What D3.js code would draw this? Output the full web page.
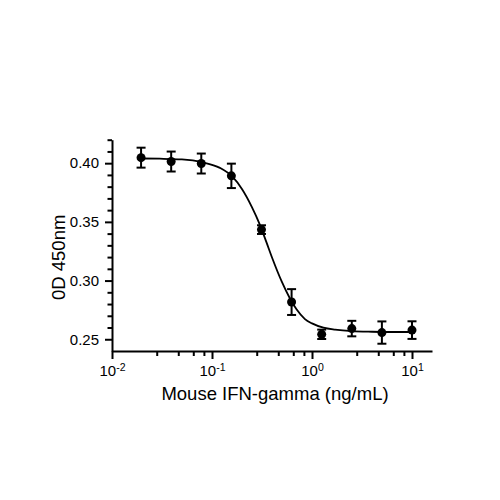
<!DOCTYPE html>
<html>
<head>
<meta charset="utf-8">
<script src="https://cdn.jsdelivr.net/npm/d3@7"></script>
<style>
  body { margin: 0; background: #fff; }
  text { font-family: "Liberation Sans", Arial, sans-serif; fill: #000; }
</style>
</head>
<body>
<div id="chart"></div>
<script>
// data
var conc = [0.01953, 0.03906, 0.07813, 0.15625, 0.3125, 0.625, 1.25, 2.5, 5, 10];
var od = [0.4047, 0.4014, 0.3997, 0.3892, 0.3434, 0.2817, 0.2542, 0.2591, 0.2557, 0.2578];
var sd = [0.0085, 0.0085, 0.0085, 0.0104, 0.0037, 0.0110, 0.0040, 0.0066, 0.0095, 0.0075];

// fitted curve
var curveX = [0.0195, 0.03, 0.05, 0.08, 0.12, 0.16, 0.2, 0.25, 0.3, 0.35, 0.4, 0.5, 0.6, 0.7, 0.85, 1.0, 1.3, 1.7, 2.5, 4, 6, 10];
var curveY = [0.4040, 0.4038, 0.4032, 0.4008, 0.3960, 0.3885, 0.3778, 0.3628, 0.3479, 0.3327, 0.3192, 0.2988, 0.2849, 0.2755, 0.2672, 0.2635, 0.2599, 0.2582, 0.2569, 0.2564, 0.2562, 0.2562];

// ticks
var yMajorTicks = [0.25, 0.30, 0.35, 0.40];
var yMinorTicks = [0.26, 0.27, 0.28, 0.29, 0.31, 0.32, 0.33, 0.34, 0.36, 0.37, 0.38, 0.39, 0.41, 0.42];
var xMajorTicks = [0.01, 0.1, 1, 10];
var xMinorTicks = [0.028, 0.046, 0.065, 0.083, 0.28, 0.46, 0.65, 0.83, 2.8, 4.6, 6.5, 8.3];

var xTitle = "Mouse IFN-gamma (ng/mL)";
var yTitle = "0D 450nm";

var svgWidth = 500;
var svgHeight = 500;

var margin = { top: 139.7, right: 68, bottom: 149, left: 112 };
var width = svgWidth - margin.left - margin.right;
var height = svgHeight - margin.top - margin.bottom;

var svg = d3.select("#chart")
    .append("svg")
    .attr("width", svgWidth)
    .attr("height", svgHeight);

svg.append("rect")
    .attr("width", svgWidth)
    .attr("height", svgHeight)
    .attr("fill", "#fff");

var chartGroup = svg.append("g")
    .attr("transform", `translate(${margin.left},${margin.top})`);

// scales
var xLogScale = d3.scaleLog()
    .domain([0.01, 15.85])
    .range([0, width]);

var yLinearScale = d3.scaleLinear()
    .domain([0.24, 0.42])
    .range([height, 0]);

// y axis: minor then major
var yMinor = chartGroup.append("g")
    .call(d3.axisLeft(yLinearScale).tickValues(yMinorTicks).tickSize(4.5).tickFormat(""));
yMinor.select(".domain").remove();

var yAxis = chartGroup.append("g")
    .call(d3.axisLeft(yLinearScale)
        .tickValues(yMajorTicks)
        .tickSize(7)
        .tickSizeOuter(0)
        .tickPadding(6)
        .tickFormat(d3.format(".2f")));

yAxis.selectAll("text")
    .style("font-size", "15px");

// x axis
var xMinor = chartGroup.append("g")
    .attr("transform", `translate(0, ${height})`)
    .call(d3.axisBottom(xLogScale).tickValues(xMinorTicks).tickSize(5).tickFormat(""));
xMinor.select(".domain").remove();

var xAxis = chartGroup.append("g")
    .attr("transform", `translate(0, ${height})`)
    .call(d3.axisBottom(xLogScale)
        .tickValues(xMajorTicks)
        .tickSize(8)
        .tickSizeOuter(0)
        .tickPadding(6)
        .tickFormat(""));

xAxis.selectAll(".tick text")
    .style("font-size", "15px")
    .each(function (d) {
        var t = d3.select(this);
        t.append("tspan").text("10");
        t.append("tspan")
            .attr("dy", "-0.42em")
            .style("font-size", "10.5px")
            .text(Math.round(Math.log10(d)));
    });

// axis line style
chartGroup.selectAll(".domain, .tick line")
    .attr("stroke", "#000")
    .attr("stroke-width", 2);

// fitted curve
var curveData = curveX.map(function (v, i) { return { x: v, y: curveY[i] }; });

var line = d3.line()
    .x(d => xLogScale(d.x))
    .y(d => yLinearScale(d.y))
    .curve(d3.curveMonotoneX);

chartGroup.append("path")
    .datum(curveData)
    .attr("d", line)
    .attr("fill", "none")
    .attr("stroke", "#000")
    .attr("stroke-width", 1.8);

// points with error bars
var pointData = conc.map(function (c, i) { return { x: c, y: od[i], e: sd[i] }; });
var capHalf = 4.5;

var bars = chartGroup.selectAll(".err")
    .data(pointData)
    .enter()
    .append("g")
    .attr("class", "err")
    .attr("stroke", "#000")
    .attr("stroke-width", 2);

bars.append("line")
    .attr("x1", d => xLogScale(d.x))
    .attr("x2", d => xLogScale(d.x))
    .attr("y1", d => yLinearScale(d.y + d.e))
    .attr("y2", d => yLinearScale(d.y - d.e));

bars.append("line")
    .attr("x1", d => xLogScale(d.x) - capHalf)
    .attr("x2", d => xLogScale(d.x) + capHalf)
    .attr("y1", d => yLinearScale(d.y + d.e))
    .attr("y2", d => yLinearScale(d.y + d.e));

bars.append("line")
    .attr("x1", d => xLogScale(d.x) - capHalf)
    .attr("x2", d => xLogScale(d.x) + capHalf)
    .attr("y1", d => yLinearScale(d.y - d.e))
    .attr("y2", d => yLinearScale(d.y - d.e));

chartGroup.selectAll("circle")
    .data(pointData)
    .enter()
    .append("circle")
    .attr("cx", d => xLogScale(d.x))
    .attr("cy", d => yLinearScale(d.y))
    .attr("r", 4.5)
    .attr("fill", "#000");

// axis titles
chartGroup.append("text")
    .attr("transform", `translate(${65 - margin.left}, ${height / 2 + 12}) rotate(-90)`)
    .attr("text-anchor", "middle")
    .style("font-size", "18.5px")
    .text(yTitle);

chartGroup.append("text")
    .attr("x", width / 2 + 3)
    .attr("y", height + 49)
    .attr("text-anchor", "middle")
    .style("font-size", "18.5px")
    .text(xTitle);
</script>
</body>
</html>
